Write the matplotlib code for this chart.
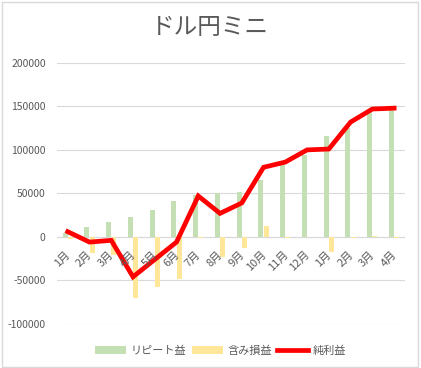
import numpy as np
import matplotlib
matplotlib.use("Agg")
import matplotlib.pyplot as plt
from matplotlib.patches import Rectangle

plt.rcParams['font.family'] = ['Noto Sans CJK JP', 'DejaVu Sans']
plt.rcParams['axes.unicode_minus'] = False

months = ["1月", "2月", "3月", "4月", "5月", "6月", "7月", "8月", "9月",
          "10月", "11月", "12月", "1月", "2月", "3月", "4月"]
repeat = [5000, 11500, 17000, 23000, 31000, 41000, 48000, 50500, 52000,
          65000, 83000, 94000, 116000, 125000, 144000, 146000]
unrealized = [-2000, -18000, -21000, -70000, -58000, -49000, -1000, -23000, -13000,
              13000, -1000, 0, -17000, -1000, 1000, -1000]
net = [6000, -6000, -4000, -46000, -26000, -6000, 47000, 27000, 39000,
       80000, 86000, 100000, 101000, 132000, 147000, 148000]

fig = plt.figure(figsize=(4.21, 3.68), dpi=100)
ax = fig.add_axes([0.135, 0.12, 0.827, 0.709])

x = np.arange(len(months))
w = 0.23
b1 = ax.bar(x - 0.12, repeat, width=w, color="#C5DFB4", label="リピート益", zorder=2)
b2 = ax.bar(x + 0.12, unrealized, width=w, color="#FFE699", label="含み損益", zorder=2)
l1, = ax.plot(x, net, color="#FF0000", lw=3.4, label="純利益", zorder=3,
              solid_joinstyle="miter")

ax.set_xlim(-0.5, len(months) - 0.5)
ax.set_ylim(-100000, 200000)
ax.set_yticks(np.arange(-100000, 200001, 50000))
ax.yaxis.grid(True, color="#D9D9D9", lw=0.8, zorder=0)
ax.axhline(0, color="#D9D9D9", lw=0.8, zorder=1)
for s in ax.spines.values():
    s.set_visible(False)
ax.tick_params(axis="y", length=0, labelsize=7.5, labelcolor="#595959", pad=8)

# month labels sit just under the zero line
ax.set_xticks([])
for i, m in enumerate(months):
    ax.text(i - 0.12, -14000, m, rotation=45, ha="right", va="top",
            rotation_mode="anchor", fontsize=8, color="#595959")

fig.text(0.5, 0.925, "ドル円ミニ", ha="center", va="center", fontsize=17,
         color="#595959")

ax.legend([b1, b2, l1], ["リピート益", "含み損益", "純利益"],
          loc="upper center", bbox_to_anchor=(0.47, -0.045), ncol=3, frameon=False,
          fontsize=8, labelcolor="#595959", handlelength=2.8, columnspacing=0.5,
          handletextpad=0.4)

fig.patches.append(Rectangle((0.004, 0.004), 0.99, 0.99, transform=fig.transFigure,
                             fill=False, edgecolor="#D9D9D9", lw=1))

fig.savefig("out.png", dpi=100)
